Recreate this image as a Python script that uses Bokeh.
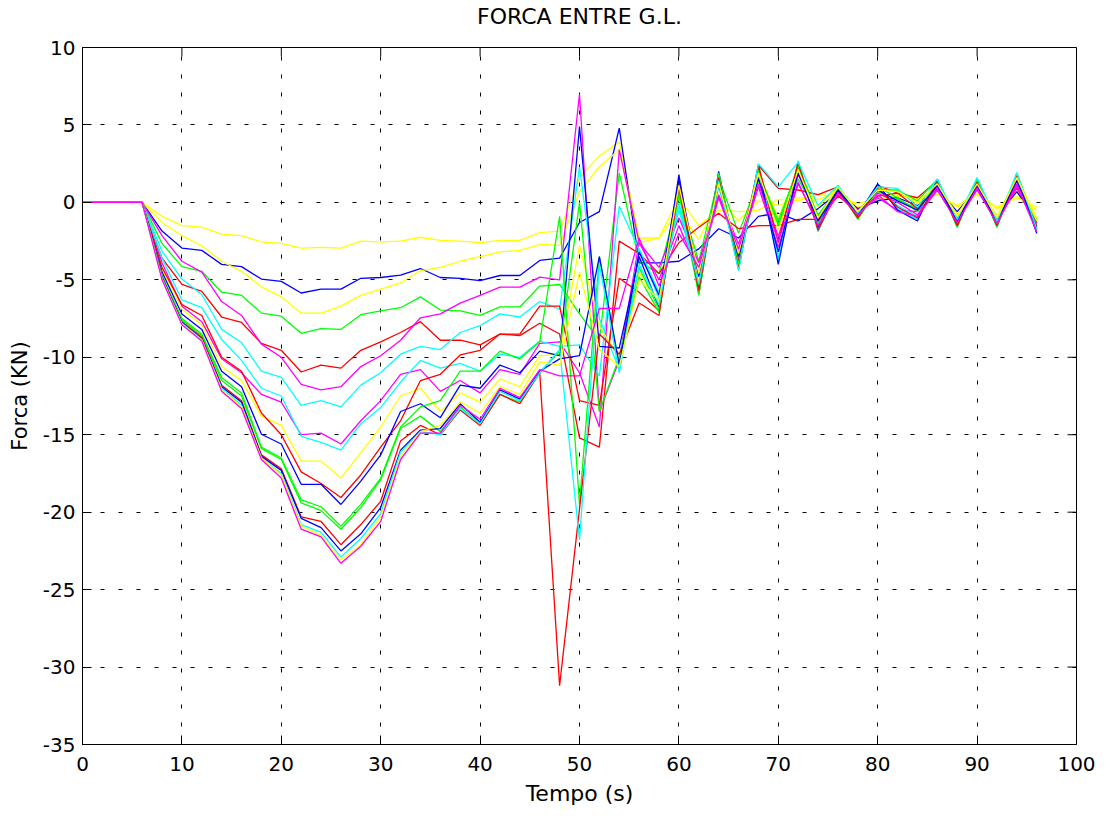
import math
from bokeh.plotting import figure
from bokeh.models import Range1d, FixedTicker, CustomJSTickFormatter, LinearAxis
from bokeh.embed import file_html
from bokeh.resources import INLINE

t = list(range(0, 97, 2))

s01_yellow = [0,0,0,0, -0.9,-1.5,-1.6,-2.05,-2.15,-2.55,-2.65, -2.95,-2.9,-2.95,-2.5,-2.55,-2.5,-2.25,-2.45,-2.5,-2.6,-2.45,-2.45,-1.95,-1.85, 1.6,3.0,3.9,-2.3,-2.3, -0.5,-2.4,0.2,-1.2,0.1,-0.2,0.3,0.2,0.7,-0.3,0.2,0.4,0.3,0.6,-0.3,0.5,-0.3,0.4,-0.5]
s02_blue = [0,0,0,0, -1.85,-2.95,-3.1,-4.0,-4.15,-4.95,-5.1, -5.85,-5.6,-5.6,-4.9,-4.85,-4.7,-4.27,-4.85,-4.9,-5.05,-4.72,-4.72,-3.75,-3.6, -1.3,-0.6,4.8,-3.9,-3.9, -3.8,-3.0,-1.7,-2.3,-0.9,-0.7,-1.2,-0.4,0.6,-0.4,0.1,0.3,-0.2,0.9,-0.6,0.9,-0.9,0.7,-1.2]
s03_yellow = [0,0,0,0, -1.3,-2.15,-2.8,-3.8,-4.45,-5.45,-6.1, -7.15,-7.15,-6.7,-6.0,-5.6,-5.2,-4.4,-4.2,-3.8,-3.5,-3.2,-3.1,-2.72,-2.77, 0.7,2.3,3.4,-2.6,-2.3, 0.3,-1.5,-0.5,-0.6,-0.5,0.2,0.1,0.5,0.4,-0.1,0.3,0.5,0.2,0.5,-0.2,0.6,-0.4,0.3,-0.3]
s04_green = [0,0,0,0, -2.65,-4.15,-4.45,-5.8,-6.0,-7.15,-7.35, -8.45,-8.15,-8.2,-7.25,-7.0,-6.8,-6.1,-6.95,-7.0,-7.3,-6.75,-6.75,-5.4,-5.3, -7.2,-8.9,1.9,-3.8,-4.6, 0.4,-3.8,1.6,-2.0,1.4,-1.4,1.5,-0.8,0.8,-0.6,0.7,0.2,-0.4,1.1,-1.0,1.1,-1.1,1.4,-1.1]
s05_red = [0,0,0,0, -3.6,-5.3,-5.75,-7.4,-7.75,-9.1,-9.55, -10.95,-10.5,-10.7,-9.55,-9.0,-8.4,-7.7,-8.9,-8.9,-9.2,-8.5,-8.6,-7.8,-8.5, -15.2,-15.8,-2.5,-3.3,-4.6, -2.6,-1.6,-0.7,-1.7,-1.5,-1.5,-1.1,-1.1,0.4,-0.5,0.4,0.6,-0.4,1.0,-0.8,1.0,-1.0,0.9,-1.3]
s06_magenta = [0,0,0,0, -2.15,-3.8,-4.5,-6.4,-7.3,-9.15,-10.0, -11.75,-12.1,-11.9,-10.6,-9.9,-8.9,-7.45,-7.2,-6.5,-6.0,-5.47,-5.47,-4.83,-5.0, 7.0,-13.5,-10.2,-2.6,-5.0, -1.5,-4.5,0.3,-3.2,1.0,-2.9,1.2,-1.3,0.6,-0.7,0.3,-0.5,-0.6,0.8,-1.2,0.8,-1.3,1.0,-1.5]
s07_cyan = [0,0,0,0, -3.15,-4.95,-5.95,-8.2,-9.05,-10.9,-11.3, -13.1,-12.8,-13.2,-11.8,-11.0,-9.8,-9.3,-9.5,-8.4,-7.95,-7.2,-7.4,-6.4,-6.9, 2.3,-7.5,-10.8,-3.0,-5.8, -0.5,-5.2,1.0,-3.8,2.2,-3.8,2.5,-1.7,0.9,-0.9,0.9,-0.2,-0.9,1.3,-1.4,1.3,-1.5,1.8,-1.9]
s08_magenta = [0,0,0,0, -3.9,-6.7,-7.7,-10.1,-11.0,-12.4,-12.9, -15.0,-14.9,-15.6,-14.1,-12.8,-11.1,-10.8,-12.2,-11.5,-12.3,-10.8,-11.1,-9.1,-9.0, -11.0,-14.5,3.4,-2.6,-4.2, -1.0,-3.9,0.5,-2.7,1.5,-2.2,1.8,-1.0,0.7,-0.5,0.6,0.0,-0.8,1.0,-1.1,1.0,-1.2,1.2,-1.3]
s09_cyan = [0,0,0,0, -3.6,-6.3,-6.8,-8.85,-10.2,-12.0,-12.5, -15.1,-15.5,-16.0,-14.3,-13.25,-11.6,-10.2,-10.7,-10.4,-10.9,-9.8,-10.0,-8.95,-9.3, -9.2,-11.2,-0.25,-3.05,-6.2, -0.2,-5.6,1.3,-4.3,2.4,-3.5,2.7,-1.9,1.0,-1.0,1.1,-0.4,-1.1,1.4,-1.6,1.5,-1.6,1.9,-2.0]
s10_yellow = [0,0,0,0, -4.3,-6.9,-7.9,-10.6,-11.5,-13.8,-14.4, -16.7,-16.7,-17.8,-16.15,-14.5,-12.5,-12.0,-13.5,-12.3,-12.9,-11.4,-11.9,-9.9,-9.8, -2.8,-8.0,-10.0,-4.5,-6.5, 0.8,-5.2,1.5,-3.6,1.8,-1.0,2.0,-0.3,1.0,-0.6,0.9,0.7,-0.1,1.2,-0.8,1.2,-0.9,1.6,-1.0]
s11_red = [0,0,0,0, -4.2,-6.6,-7.3,-10.0,-10.9,-13.6,-15.0, -17.4,-18.15,-19.05,-17.6,-15.8,-14.1,-11.5,-11.1,-9.85,-9.55,-8.5,-8.5,-6.7,-6.7, -12.8,-13.1,-4.9,-5.8,-7.0, 1.2,-5.5,1.7,-3.8,2.4,0.9,0.8,0.5,1.0,-0.9,1.1,0.6,0.3,1.4,-1.2,1.2,-1.3,1.5,-1.5]
s12_blue = [0,0,0,0, -4.5,-7.2,-8.2,-10.9,-11.9,-14.97,-15.6, -18.2,-18.2,-19.5,-18.0,-16.3,-13.5,-13.0,-13.9,-11.8,-12.0,-10.5,-11.0,-9.6,-9.9, 4.9,-9.3,-9.4,-3.5,-6.8, 1.8,-5.9,2.0,-4.2,2.3,-4.0,2.3,-1.6,1.0,-0.8,1.2,-0.5,-1.2,1.5,-1.4,1.4,-1.5,1.8,-2.0]
s13_green = [0,0,0,0, -4.7,-7.5,-8.5,-11.3,-12.3,-15.8,-16.5, -19.2,-19.65,-20.9,-19.5,-17.8,-14.5,-13.2,-12.8,-10.9,-10.9,-9.6,-10.1,-9.0,-0.9, -19.5,-3.5,-10.5,-4.8,-7.1, 0.6,-5.8,1.9,-4.0,2.1,-1.5,2.4,-0.9,0.9,-1.1,0.8,0.8,0.1,1.5,-1.6,1.5,-1.6,1.9,-1.6]
s14_green = [0,0,0,0, -4.75,-7.6,-8.6,-11.5,-12.5,-15.9,-16.6, -19.4,-19.9,-21.1,-19.7,-17.9,-14.6,-13.8,-14.8,-13.2,-14.3,-12.4,-12.9,-11.0,-9.6, 0.0,-13.5,-10.0,-4.2,-6.9, 0.9,-6.0,1.8,-4.1,1.9,-1.2,2.2,-1.4,1.1,-1.0,1.0,0.3,-0.6,1.3,-1.5,1.4,-1.4,1.8,-1.8]
s15_red = [0,0,0,0, -4.8,-7.7,-8.7,-11.8,-12.8,-16.3,-17.2, -20.3,-20.6,-22.1,-20.8,-19.3,-15.4,-14.4,-15.0,-13.4,-14.4,-12.4,-13.0,-11.0,-31.2, -19.8,-8.5,-9.8,-6.5,-7.3, 1.0,-5.7,1.6,-4.3,2.4,-2.6,2.6,-1.8,0.8,-1.0,0.9,-0.3,-1.0,1.3,-1.5,1.3,-1.5,1.7,-1.7]
s16_blue = [0,0,0,0, -4.85,-7.75,-8.8,-11.9,-12.9,-16.4,-17.3, -20.4,-21.0,-22.5,-21.4,-19.7,-16.0,-14.7,-14.6,-13.0,-14.2,-12.1,-12.7,-10.9,-10.1, -9.9,-3.5,-10.5,-3.2,-6.0, 1.5,-4.8,1.2,-3.5,1.6,-3.2,1.9,-1.2,0.8,-0.7,0.8,0.1,-0.5,1.1,-1.2,1.1,-1.2,1.4,-1.6]
s17_cyan = [0,0,0,0, -4.9,-7.8,-8.85,-12.0,-13.1,-16.5,-17.5, -20.8,-21.3,-22.9,-21.7,-20.1,-16.1,-14.8,-15.0,-13.3,-14.3,-12.2,-12.8,-11.0,-9.5, -21.8,-4.0,-11.0,-4.0,-6.6, 0.0,-5.3,1.4,-4.4,2.5,1.0,2.6,-0.2,1.1,-0.7,1.0,0.9,-0.3,1.5,-1.1,1.6,-1.2,1.9,-1.7]
s18_yellow = [0,0,0,0, -4.95,-7.85,-8.9,-12.1,-13.2,-16.5,-17.6, -20.9,-21.5,-23.1,-22.1,-20.3,-16.4,-14.8,-14.4,-12.9,-13.6,-11.9,-12.4,-10.3,-10.5, -4.5,-9.5,-10.6,-5.0,-6.3, 1.1,-4.6,1.2,-3.3,1.9,-1.8,2.1,-1.0,1.0,-0.6,0.8,0.7,0.0,1.2,-0.9,1.2,-1.0,1.6,-1.2]
s19_magenta = [0,0,0,0, -5.0,-7.9,-8.95,-12.2,-13.3,-16.6,-17.8, -21.1,-21.6,-23.3,-22.2,-20.6,-16.6,-14.9,-14.9,-13.1,-14.0,-12.0,-12.6,-10.8,-11.2, -11.2,-6.85,-6.85,-2.3,-5.4, -2.0,-4.2,0.4,-3.0,1.2,-2.5,1.3,-1.5,0.5,-0.8,0.5,-0.6,-0.9,0.8,-1.3,0.9,-1.4,1.1,-1.9]

series = [
    (s01_yellow, "#FFFF00"), (s02_blue, "#0000FF"), (s03_yellow, "#FFFF00"),
    (s04_green, "#00FF00"), (s05_red, "#FF0000"), (s06_magenta, "#FF00FF"),
    (s07_cyan, "#00FFFF"), (s08_magenta, "#FF00FF"), (s09_cyan, "#00FFFF"),
    (s10_yellow, "#FFFF00"), (s11_red, "#FF0000"), (s12_blue, "#0000FF"),
    (s13_green, "#00FF00"), (s14_green, "#00FF00"), (s15_red, "#FF0000"),
    (s16_blue, "#0000FF"), (s17_cyan, "#00FFFF"), (s18_yellow, "#FFFF00"),
    (s19_magenta, "#FF00FF"),
]

x_ticks = [0, 10, 20, 30, 40, 50, 60, 70, 80, 90, 100]
y_ticks = [-35, -30, -25, -20, -15, -10, -5, 0, 5, 10]
X_MIN, X_MAX, Y_MIN, Y_MAX = 0, 100, -35, 10
TITLE = "FORCA ENTRE G.L."

FONT = "DejaVu Sans"

p = figure(width=1110, height=816, x_range=Range1d(X_MIN, X_MAX), y_range=Range1d(Y_MIN, Y_MAX),
           output_backend="svg", toolbar_location=None,
           min_border_left=82, min_border_right=34, min_border_top=46, min_border_bottom=72)
p.outline_line_color = "black"
p.outline_line_width = 1
p.outline_line_alpha = 1.0
p.background_fill_color = "white"
p.border_fill_color = "white"

for ys, col in series:
    p.line(t, ys, line_color=col, line_width=1.3)

fmt = CustomJSTickFormatter(code="return tick.toString();")
xax = p.below[0]
yax = p.left[0]
xax.ticker = FixedTicker(ticks=x_ticks)
yax.ticker = FixedTicker(ticks=y_ticks)
for ax in (xax, yax):
    ax.formatter = fmt
    ax.major_tick_in = 9
    ax.major_tick_out = 0
    ax.minor_tick_line_color = None
    ax.axis_line_color = "black"
    ax.major_tick_line_color = "black"
    ax.major_label_text_font = FONT
    ax.major_label_text_font_size = "20px"
    ax.major_label_text_color = "black"
    ax.axis_label_text_font = FONT
    ax.axis_label_text_font_style = "normal"
    ax.axis_label_text_color = "black"
xax.axis_label = "Tempo (s)"
yax.axis_label = "Forca (KN)"
xax.axis_label_text_font_size = "22px"
yax.axis_label_text_font_size = "21px"
xax.major_label_standoff = 12
yax.major_label_standoff = 7
xax.axis_label_standoff = 7
yax.axis_label_standoff = 8

# title drawn as the label of a bare axis above the box
title_axis = LinearAxis(ticker=FixedTicker(ticks=[]), axis_label=TITLE,
                        axis_line_color=None, major_tick_line_color=None,
                        minor_tick_line_color=None, major_label_standoff=0,
                        major_tick_in=0, major_tick_out=0,
                        axis_label_standoff=19, axis_label_text_font=FONT,
                        axis_label_text_font_size="22px",
                        axis_label_text_font_style="normal",
                        axis_label_text_color="black")
p.add_layout(title_axis, "above")

# mirrored inward ticks on the top and right edges of the box
p.ray(x=x_ticks, y=[Y_MAX] * len(x_ticks), length=9, length_units="screen",
      angle=-math.pi / 2, line_color="black", line_width=1)
p.ray(x=[X_MAX] * len(y_ticks), y=y_ticks, length=9, length_units="screen",
      angle=math.pi, line_color="black", line_width=1)

p.xgrid[0].ticker = FixedTicker(ticks=x_ticks)
p.ygrid[0].ticker = FixedTicker(ticks=y_ticks)
for g in (p.xgrid[0], p.ygrid[0]):
    g.grid_line_color = "black"
    g.grid_line_dash = "4 14"
    g.grid_line_width = 1

open("out.html", "w").write(file_html(p, INLINE))
